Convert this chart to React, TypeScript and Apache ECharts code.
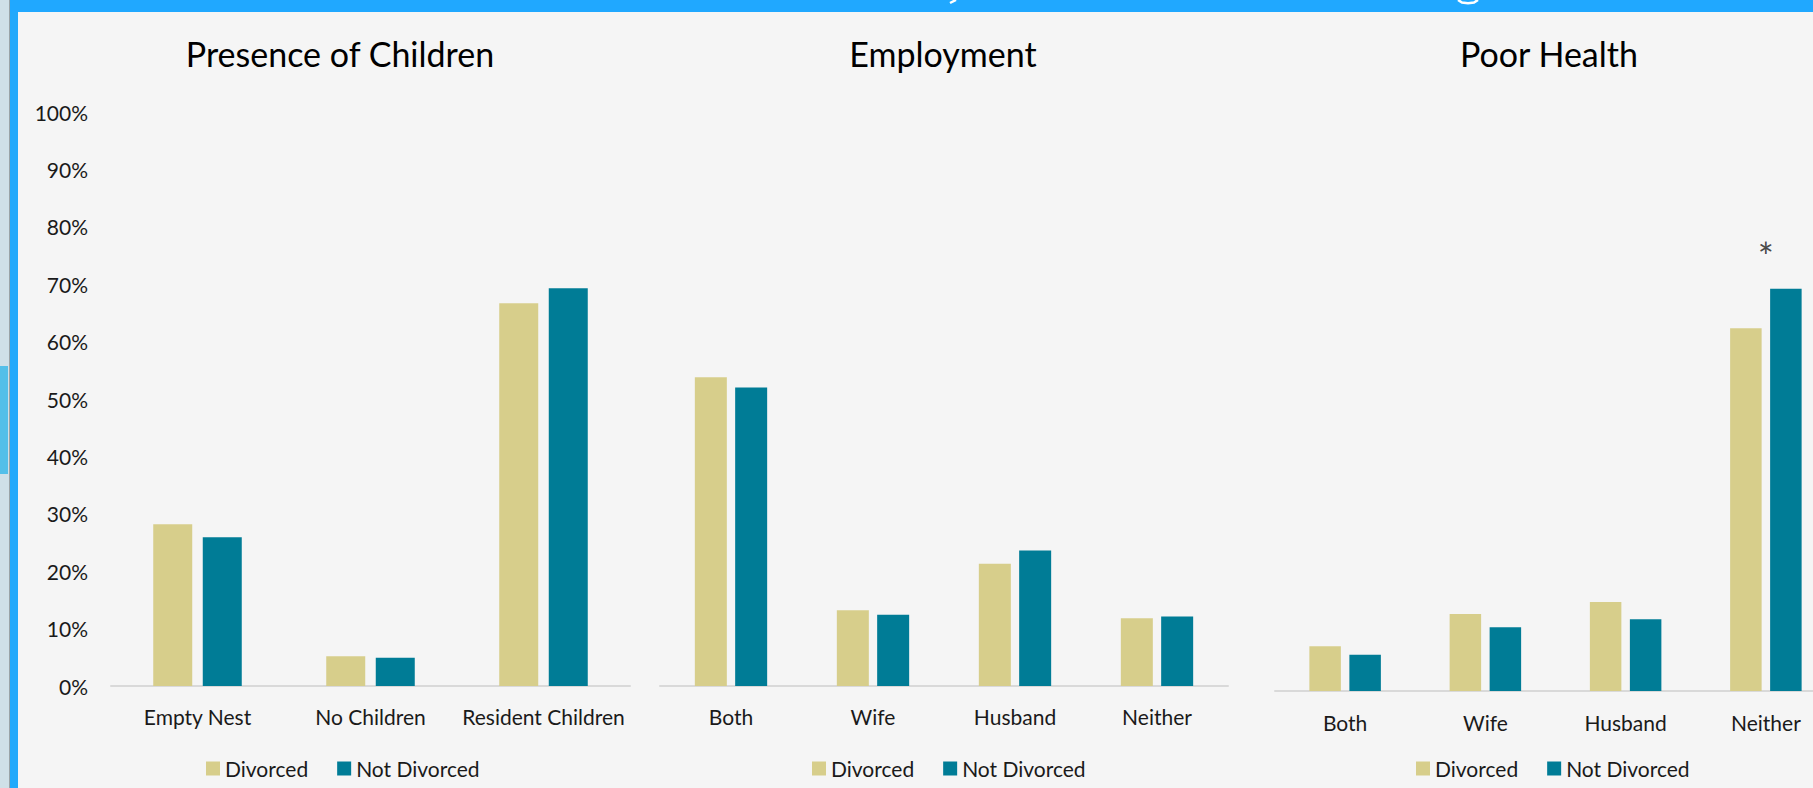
import React, { useEffect, useRef } from "react";
import * as echarts from "echarts";

// ---- data ----
const seriesNames = ["Divorced", "Not Divorced"];

const childrenTitle = "Presence of Children";
const childrenCats = ["Empty Nest", "No Children", "Resident Children"];
const childrenDivorced = [28.2, 5.2, 66.7];
const childrenNotDivorced = [25.9, 4.9, 69.3];

const employmentTitle = "Employment";
const employmentCats = ["Both", "Wife", "Husband", "Neither"];
const employmentDivorced = [53.8, 13.2, 21.3, 11.8];
const employmentNotDivorced = [52.0, 12.4, 23.6, 12.1];

const healthTitle = "Poor Health";
const healthCats = ["Both", "Wife", "Husband", "Neither"];
const healthDivorced = [7.8, 13.4, 15.5, 63.2];
const healthNotDivorced = [6.3, 11.1, 12.5, 70.1];
const healthSignificance = ["", "", "", "*"];

const yTicks = { min: 0, max: 100, interval: 10 };

// ---- styles ----
const FONT = "Lato";
const C_DIV = "#D7CE8B";
const C_NOT = "#007C96";
const TXT = "#1a1a1a";

export default function App() {
  const ref = useRef<HTMLDivElement>(null);

  useEffect(() => {
    if (!ref.current) return;
    const chart = echarts.init(ref.current, undefined, { renderer: "svg" });

    const grids = [
      { left: 111, width: 519, top: 112, height: 574, outerBoundsMode: "none" },
      { left: 660, width: 568, top: 112, height: 574, outerBoundsMode: "none" },
      { left: 1275, width: 561, top: 117, height: 574, outerBoundsMode: "none" },
    ];
    const cats = [childrenCats, employmentCats, healthCats];
    const divs = [childrenDivorced, employmentDivorced, healthDivorced];
    const nots = [childrenNotDivorced, employmentNotDivorced, healthNotDivorced];
    const barWidths = [39, 32, 31.5];
    const barGaps = ["27%", "26%", "27%"];
    const labelMargins = [20, 20, 21];

    const xAxis = cats.map((c, i) => ({
      type: "category",
      gridIndex: i,
      data: c,
      axisLine: { show: true, lineStyle: { color: "#d9d9d9", width: 2 } },
      axisTick: { show: false },
      axisLabel: {
        color: TXT,
        fontFamily: FONT,
        fontSize: 21,
        margin: labelMargins[i],
        interval: 0,
      },
    }));
    const yAxis = [0, 1, 2].map((i) => ({
      type: "value",
      gridIndex: i,
      min: yTicks.min,
      max: yTicks.max,
      interval: yTicks.interval,
      axisLine: { show: false },
      axisTick: { show: false },
      splitLine: { show: false },
      axisLabel: {
        show: i === 0,
        color: TXT,
        fontFamily: FONT,
        fontSize: 21,
        margin: 23,
        formatter: (v: number) => v + "%",
      },
    }));

    const series: any[] = [];
    [0, 1, 2].forEach((i) => {
      series.push({
        name: seriesNames[0],
        type: "bar",
        xAxisIndex: i,
        yAxisIndex: i,
        data: divs[i],
        barWidth: barWidths[i],
        barGap: barGaps[i],
        itemStyle: { color: C_DIV },
      });
      series.push({
        name: seriesNames[1],
        type: "bar",
        xAxisIndex: i,
        yAxisIndex: i,
        data: nots[i],
        barWidth: barWidths[i],
        barGap: barGaps[i],
        itemStyle: { color: C_NOT },
      });
    });
    series.push({
      type: "scatter",
      xAxisIndex: 2,
      yAxisIndex: 2,
      symbolSize: 0,
      silent: true,
      data: healthCats.map((_, k) => ({
        value: Math.max(healthDivorced[k], healthNotDivorced[k]),
        label: { show: healthSignificance[k] !== "" },
      })),
      label: {
        show: true,
        position: "top",
        distance: 14,
        color: TXT,
        fontFamily: FONT,
        fontSize: 38,
        formatter: (p: any) => healthSignificance[p.dataIndex],
      },
    });

    const legendLefts = [206, 812, 1416];
    const legend = legendLefts.map((l) => ({
      left: l,
      top: 758,
      padding: 0,
      data: seriesNames,
      icon: "rect",
      itemWidth: 14,
      itemHeight: 14,
      itemGap: 29,
      selectedMode: false,
      textStyle: { color: TXT, fontFamily: FONT, fontSize: 21 },
    }));

    const titles = [
      { text: childrenTitle, x: 340 },
      { text: employmentTitle, x: 943 },
      { text: healthTitle, x: 1549 },
    ];

    chart.setOption({
      animation: false,
      backgroundColor: "#f5f5f5",
      grid: grids,
      xAxis,
      yAxis,
      legend,
      series,
      graphic: [
        { type: "rect", shape: { x: 0, y: 0, width: 9, height: 788 }, style: { fill: "#cfe0e8" } },
        { type: "rect", shape: { x: 0, y: 366, width: 8, height: 108 }, style: { fill: "#53bfe9" } },
        { type: "rect", shape: { x: 9, y: 0, width: 1, height: 788 }, style: { fill: "#9aa4a8" } },
        { type: "rect", shape: { x: 10, y: 0, width: 8, height: 788 }, style: { fill: "#22a9fb" } },
        { type: "rect", shape: { x: 10, y: 0, width: 1803, height: 12 }, style: { fill: "#20a8ff" } },
        {
          type: "polyline",
          shape: { points: [[956, 0], [950, 3]] },
          style: { stroke: "#ffffff", lineWidth: 2.5, fill: "none" },
        },
        {
          type: "polyline",
          shape: { points: [[1458, 0], [1462, 2.5], [1468, 3.2], [1474, 2.5], [1478, 0]] },
          style: { stroke: "#ffffff", lineWidth: 2.5, fill: "none" },
        },
        ...titles.map((t) => ({
          type: "text",
          x: t.x,
          y: 53,
          style: {
            text: t.text,
            fill: "#000",
            font: `34px ${FONT}`,
            align: "center",
            verticalAlign: "middle",
          },
        })),
      ],
    });

    return () => chart.dispose();
  }, []);

  return (
    <div
      ref={ref}
      style={{ position: "fixed", left: 0, top: 0, width: 1813, height: 788 }}
    />
  );
}
